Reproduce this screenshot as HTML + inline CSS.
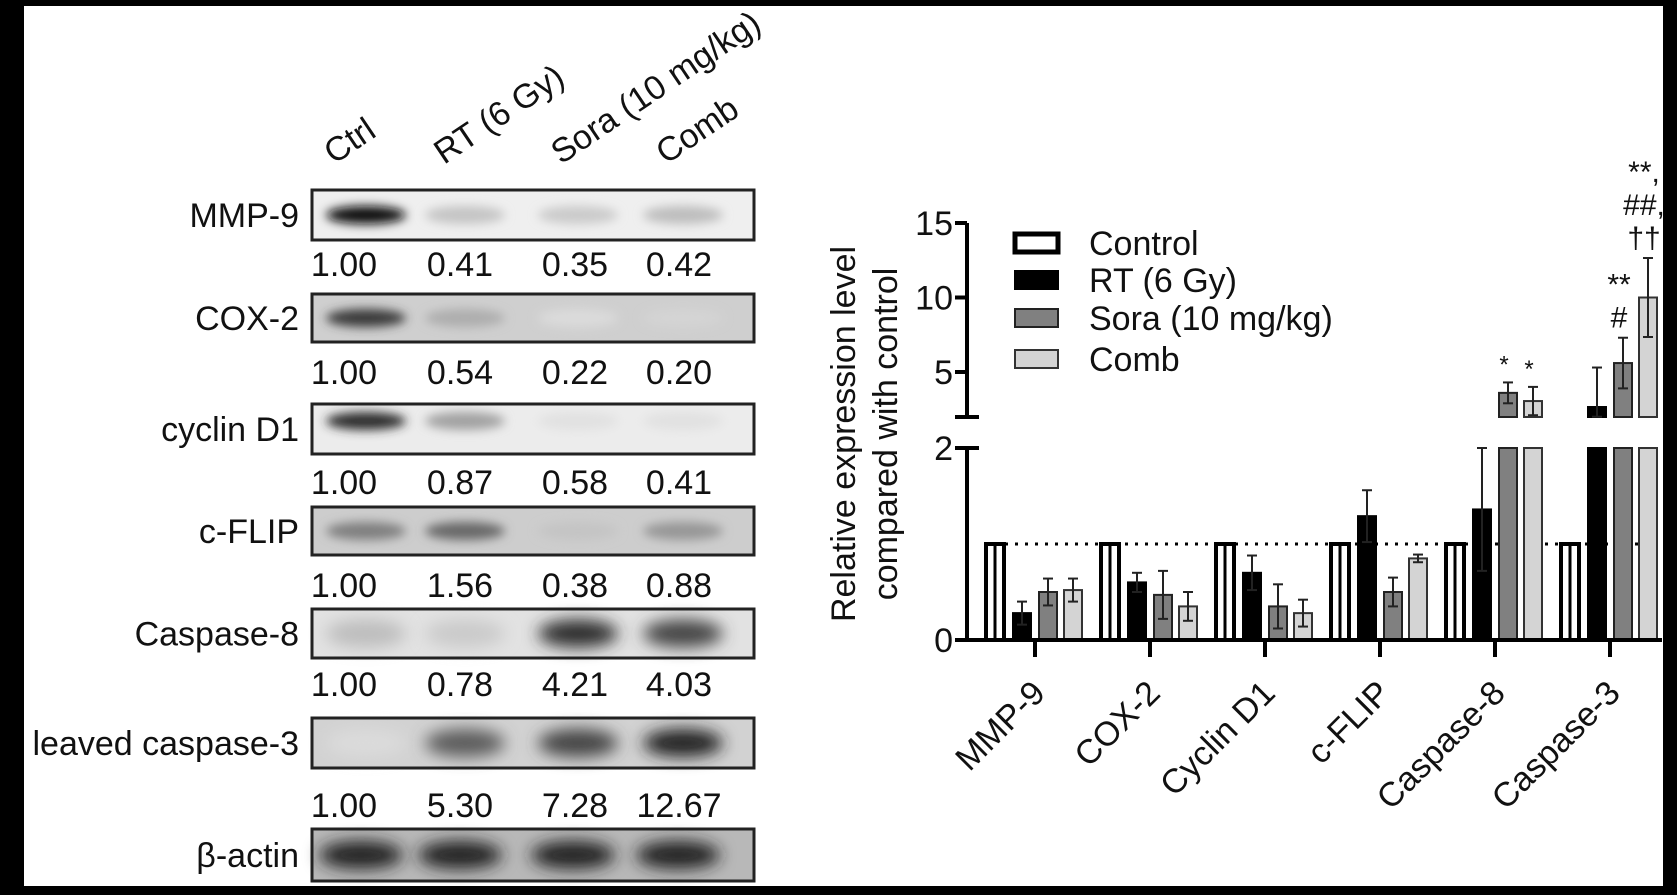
<!DOCTYPE html>
<html><head><meta charset="utf-8"><style>
html,body{margin:0;padding:0;background:#000;}
svg{display:block;font-family:"Liberation Sans",Arial,sans-serif;}
</style></head><body>
<svg id="fig" width="1677" height="895" viewBox="0 0 1677 895" xmlns="http://www.w3.org/2000/svg">
<defs>
<filter id="blur" x="-30%" y="-100%" width="160%" height="300%"><feGaussianBlur stdDeviation="5"/></filter>
<filter id="blur2" x="-30%" y="-100%" width="160%" height="300%"><feGaussianBlur stdDeviation="8"/></filter>
</defs>
<rect x="0" y="0" width="1677" height="895" fill="#000"/>
<rect x="24" y="6" width="1639" height="880" fill="#fff"/>
<g id="blot"></g>
<g id="chart"></g>
</svg>
<script>
// ---------- Blot data ----------
const lanes = ["Ctrl", "RT (6 Gy)", "Sora (10 mg/kg)", "Comb"];
const proteins = ["MMP-9", "COX-2", "cyclin D1", "c-FLIP", "Caspase-8", "leaved caspase-3", "β-actin"];
const quantMMP9 = ["1.00", "0.41", "0.35", "0.42"];
const quantCOX2 = ["1.00", "0.54", "0.22", "0.20"];
const quantCyclin = ["1.00", "0.87", "0.58", "0.41"];
const quantCFLIP = ["1.00", "1.56", "0.38", "0.88"];
const quantCasp8 = ["1.00", "0.78", "4.21", "4.03"];
const quantCasp3 = ["1.00", "5.30", "7.28", "12.67"];
const bandMMP9 = [0.95, 0.15, 0.12, 0.18];
const bandCOX2 = [0.75, 0.25, 0.05, 0.08];
const bandCyclin = [0.8, 0.3, 0.02, 0.02];
const bandCFLIP = [0.45, 0.55, 0.15, 0.35];
const bandCasp8 = [0.18, 0.12, 0.8, 0.7];
const bandCasp3 = [0.05, 0.6, 0.7, 0.85];
const bandActin = [0.85, 0.85, 0.85, 0.85];

// ---------- Chart data ----------
const categories = ["MMP-9", "COX-2", "Cyclin D1", "c-FLIP", "Caspase-8", "Caspase-3"];
const seriesNames = ["Control", "RT (6 Gy)", "Sora (10 mg/kg)", "Comb"];
const controlVals = [1, 1, 1, 1, 1, 1];
const rtVals = [0.28, 0.6, 0.7, 1.29, 1.36, 2.65];
const soraVals = [0.5, 0.47, 0.35, 0.5, 3.6, 5.6];
const combVals = [0.52, 0.35, 0.28, 0.85, 3.05, 10.0];
const controlErr = [0, 0, 0, 0, 0, 0];
const rtErr = [0.12, 0.1, 0.18, 0.27, 0.64, 2.65];
const soraErr = [0.14, 0.25, 0.23, 0.15, 0.7, 1.7];
const combErr = [0.12, 0.15, 0.14, 0.04, 0.95, 2.65];
const lowerTicks = [0, 2];
const upperTicks = [5, 10, 15];
const annotations = [
  {cat: 4, s: 2, lines: ["*"]},
  {cat: 4, s: 3, lines: ["*"]},
  {cat: 5, s: 2, lines: ["**", "#"]},
  {cat: 5, s: 3, lines: ["**,", "##,", "††"]}
];

const NS = "http://www.w3.org/2000/svg";
function mk(tag, attrs, parent) {
  const e = document.createElementNS(NS, tag);
  for (const k in attrs) e.setAttribute(k, attrs[k]);
  parent.appendChild(e);
  return e;
}

// ---------- Blot drawing ----------
const blot = document.getElementById("blot");
const boxX = 312, boxW = 442;
const boxYs = [190, 294, 404, 507, 609, 718, 829];
const boxH = [50, 48, 50, 48, 49, 50, 52];
const boxBg = ["#efefef", "#cfcfcf", "#ececec", "#cdcdcd", "#e2e2e2", "#d2d2d2", "#b8b8b8"];
const bandX = [366, 465, 578, 683];
const numX = [344, 460, 575, 679];
const numY = [276, 384, 494, 597, 696, 817];
const quants = [quantMMP9, quantCOX2, quantCyclin, quantCFLIP, quantCasp8, quantCasp3];
const bands = [bandMMP9, bandCOX2, bandCyclin, bandCFLIP, bandCasp8, bandCasp3, bandActin];
const headX = [334, 444, 561, 666];
lanes.forEach((l, i) => {
  const t = mk("text", {x: headX[i], y: 165, "font-size": 34, fill: "#111", transform: `rotate(-34 ${headX[i]} 165)`}, blot);
  t.textContent = l;
  
  
});
proteins.forEach((p, r) => {
  const y = boxYs[r], h = boxH[r];
  const g = mk("g", {}, blot);
  
  
  mk("rect", {x: boxX, y: y, width: boxW, height: h, fill: boxBg[r]}, g);
  bands[r].forEach((d, i) => {
    const shade = Math.round(230 - d * 230);
    const w = r === 6 ? 42 : 40;
    const e = mk("ellipse", {cx: bandX[i] - (r === 6 ? 5 : 0), cy: y + h / 2 - (r === 2 ? 8 : 0), rx: w, ry: r >= 4 ? 14 : 9,
      fill: `rgb(${shade},${shade},${shade})`, filter: r >= 4 ? "url(#blur2)" : "url(#blur)"}, g);
    
    
  });
  mk("rect", {x: boxX, y: y, width: boxW, height: h, fill: "none", stroke: "#222", "stroke-width": 3}, g);
  const lab = mk("text", {x: 299, y: y + h / 2 + 12, "font-size": 34, "text-anchor": "end", fill: "#111"}, g);
  lab.textContent = p;
  
  
  if (r < 6) {
    quants[r].forEach((q, i) => {
      const t = mk("text", {x: numX[i], y: numY[r], "font-size": 34, "text-anchor": "middle", fill: "#111"}, blot);
      t.textContent = q;
      
      
    });
  }
});

// ---------- Chart drawing ----------
const chart = document.getElementById("chart");
const axX = 967, axY = 640, axEnd = 1662;
const lowTop = 448, upBottom = 417;
function yLow(v) { return axY - v * 96; }
function yUp(v) { return 372 - (v - 5) * 14.9; }
function xCat(i) { return 1035 + i * 115; }
const offsets = [-40, -13, 13, 38];
const barW = 18;
const fills = ["#fff", "#000", "#808080", "#d4d4d4"];
const strokes = ["#000", "#000", "#222", "#333"];
const allVals = [controlVals, rtVals, soraVals, combVals];
const allErr = [controlErr, rtErr, soraErr, combErr];

const dl = mk("line", {x1: 1005, x2: 1650, y1: yLow(1), y2: yLow(1), stroke: "#000", "stroke-width": 3, "stroke-dasharray": "3 7"}, chart);



categories.forEach((c, ci) => {
  allVals.forEach((vals, si) => {
    const v = vals[ci], err = allErr[si][ci];
    const cx = xCat(ci) + offsets[si];
    const g = mk("g", {}, chart);
    
    
    const sw = si === 0 ? 4 : 2;
    if (v <= 2) {
      mk("rect", {x: cx - barW / 2, y: yLow(v), width: barW, height: axY - yLow(v), fill: fills[si], stroke: strokes[si], "stroke-width": sw}, g);
    } else {
      mk("rect", {x: cx - barW / 2, y: lowTop, width: barW, height: axY - lowTop, fill: fills[si], stroke: strokes[si], "stroke-width": sw}, g);
      mk("rect", {x: cx - barW / 2, y: yUp(v), width: barW, height: upBottom - yUp(v), fill: fills[si], stroke: strokes[si], "stroke-width": sw}, g);
    }
    if (si === 0) {
      mk("line", {x1: cx, x2: cx, y1: yLow(v), y2: axY, stroke: "#000", "stroke-width": 3}, g);
    }
    if (err > 0) {
      const f = (val) => (v <= 2 ? yLow(Math.min(val, 2)) : yUp(val));
      const top = f(v + err), bot = f(Math.max(v - err, v <= 2 ? 0 : 2));
      mk("line", {x1: cx, x2: cx, y1: top, y2: bot, stroke: "#222", "stroke-width": 2}, g);
      mk("line", {x1: cx - 5, x2: cx + 5, y1: top, y2: top, stroke: "#222", "stroke-width": 2}, g);
      mk("line", {x1: cx - 5, x2: cx + 5, y1: bot, y2: bot, stroke: "#222", "stroke-width": 2}, g);
    }
  });
  const tk = mk("line", {x1: xCat(ci), x2: xCat(ci), y1: axY, y2: axY + 17, stroke: "#000", "stroke-width": 4}, chart);
  
  
  const ax = xCat(ci) + 12, ay = axY + 55;
  const t = mk("text", {x: ax, y: ay, "font-size": 34, "text-anchor": "end", fill: "#111", transform: `rotate(-45 ${ax} ${ay})`}, chart);
  t.textContent = c;
  
  
});

annotations.forEach(a => {
  const v = allVals[a.s][a.cat], err = allErr[a.s][a.cat];
  const cx = xCat(a.cat) + offsets[a.s] - 4;
  let y = yUp(v + err) - 10;
  for (let k = a.lines.length - 1; k >= 0; k--) {
    const t = mk("text", {x: cx, y: y, "font-size": a.lines[k] === "*" ? 24 : 30, "text-anchor": "middle", fill: "#111"}, chart);
    t.textContent = a.lines[k];
    
    
    y -= 33;
  }
});

const xa = mk("line", {x1: axX - 2, x2: axEnd, y1: axY, y2: axY, stroke: "#000", "stroke-width": 4}, chart);


const ya1 = mk("line", {x1: axX, x2: axX, y1: lowTop, y2: axY, stroke: "#000", "stroke-width": 4}, chart);


const ya2 = mk("line", {x1: axX, x2: axX, y1: yUp(15), y2: upBottom, stroke: "#000", "stroke-width": 4}, chart);


mk("line", {x1: axX - 12, x2: axX + 12, y1: upBottom, y2: upBottom, stroke: "#000", "stroke-width": 4}, chart);
mk("line", {x1: axX - 12, x2: axX + 12, y1: lowTop, y2: lowTop, stroke: "#000", "stroke-width": 4}, chart);
lowerTicks.forEach(v => {
  mk("line", {x1: axX - 12, x2: axX, y1: yLow(v), y2: yLow(v), stroke: "#000", "stroke-width": 4}, chart);
  const t = mk("text", {x: 953, y: yLow(v) + 12, "font-size": 34, "text-anchor": "end", fill: "#111"}, chart);
  t.textContent = v;
  
  
});
upperTicks.forEach(v => {
  mk("line", {x1: axX - 12, x2: axX, y1: yUp(v), y2: yUp(v), stroke: "#000", "stroke-width": 4}, chart);
  const t = mk("text", {x: 953, y: yUp(v) + 12, "font-size": 34, "text-anchor": "end", fill: "#111"}, chart);
  t.textContent = v;
  
  
});
const yt = mk("text", {x: 0, y: 0, "font-size": 34, "text-anchor": "middle", fill: "#111", transform: "translate(855 434) rotate(-90)"}, chart);
yt.textContent = "Relative expression level";


const yt2 = mk("text", {x: 0, y: 0, "font-size": 34, "text-anchor": "middle", fill: "#111", transform: "translate(897 434) rotate(-90)"}, chart);
yt2.textContent = "compared with control";



const legY = [243, 280, 318, 359];
seriesNames.forEach((n, i) => {
  const g = mk("g", {}, chart);
  
  
  mk("rect", {x: 1015, y: legY[i] - 9, width: 43, height: 18, fill: fills[i], stroke: strokes[i], "stroke-width": i === 0 ? 5 : 2}, g);
  const t = mk("text", {x: 1089, y: legY[i] + 12, "font-size": 34, fill: "#111"}, g);
  t.textContent = n;
});
</script>
</body></html>
